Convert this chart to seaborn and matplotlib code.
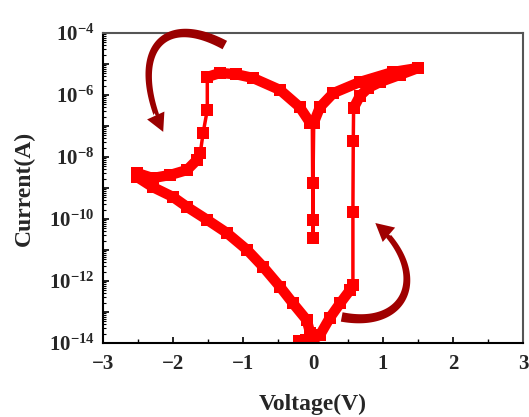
import numpy as np
import pandas as pd
import matplotlib
matplotlib.use("Agg")
import matplotlib.pyplot as plt
import seaborn as sns
from matplotlib.patches import Polygon
from matplotlib.bezier import BezierSegment
from matplotlib.transforms import IdentityTransform
from matplotlib.ticker import LogLocator, MultipleLocator, FixedLocator, NullFormatter

# ---- data (V in volts, log10 of current in A) ----
# low state, 0 -> +0.57 V
lrs_pos_v = [-0.2, -0.1, 0.0, 0.1, 0.24, 0.39, 0.53, 0.57]
lrs_pos_log = [-13.95, -13.9, -13.9, -13.74, -13.19, -12.71, -12.29, -12.13]
# SET jump at +0.57 V
set_v = [0.57, 0.57, 0.575, 0.58]
set_log = [-12.13, -9.77, -7.5, -6.42]
# high state forward, 0.58 -> 1.5 V
hrs_fwd_v = [0.58, 0.67, 0.79, 0.96, 1.24, 1.5]
hrs_fwd_log = [-6.42, -6.03, -5.77, -5.58, -5.35, -5.13]
# high state return, 1.5 -> 0 V
hrs_ret_v = [1.5, 1.14, 0.67, 0.29, 0.1, 0.01]
hrs_ret_log = [-5.13, -5.26, -5.58, -5.94, -6.39, -6.9]
# dip at 0 V
dip_v = [0.01, 0.0, 0.0, 0.0, -0.01]
dip_log = [-6.9, -8.84, -10.03, -10.6, -6.9]
# high state negative, 0 -> -1.5 V
hrs_neg_v = [-0.01, -0.04, -0.19, -0.47, -0.86, -1.1, -1.33, -1.51]
hrs_neg_log = [-6.9, -6.9, -6.39, -5.84, -5.45, -5.33, -5.29, -5.42]
# RESET drop at -1.5 V
reset_v = [-1.51, -1.51, -1.57, -1.61]
reset_log = [-5.42, -6.48, -7.23, -7.87]
# after reset, -1.6 -> -2.5 V
tail_v = [-1.61, -1.66, -1.8, -2.04, -2.29, -2.51]
tail_log = [-7.87, -8.1, -8.42, -8.58, -8.68, -8.52]
# low state return, -2.5 -> 0 V
lrs_neg_v = [-2.51, -2.29, -2.0, -1.8, -1.51, -1.23, -0.94, -0.71, -0.47,
             -0.29, -0.09, -0.04, 0.0]
lrs_neg_log = [-8.65, -8.97, -9.29, -9.61, -10.03, -10.45, -11.0, -11.55,
               -12.19, -12.71, -13.26, -13.68, -13.9]

# sweep-direction arrows: cubic bezier (V, log10 I) tail -> ctrl -> ctrl -> tip
arrow_top_v = [-1.26, -2.19, -2.64, -2.14]
arrow_top_log = [-4.39, -3.26, -4.71, -7.19]
arrow_bot_v = [0.41, 1.39, 1.67, 0.89]
arrow_bot_log = [-13.16, -13.58, -11.65, -10.13]

thick = [(lrs_pos_v, lrs_pos_log), (hrs_fwd_v, hrs_fwd_log),
         (hrs_ret_v, hrs_ret_log), (hrs_neg_v, hrs_neg_log),
         (tail_v, tail_log), (lrs_neg_v, lrs_neg_log)]
thin = [(set_v, set_log), (dip_v, dip_log), (reset_v, reset_log)]

sns.set_style("ticks")
plt.rcParams['font.family'] = ['Liberation Serif', 'DejaVu Serif']
plt.rcParams['font.weight'] = 'bold'
plt.rcParams['mathtext.fontset'] = 'custom'
plt.rcParams['mathtext.rm'] = 'Liberation Serif:bold'
plt.rcParams['mathtext.bf'] = 'Liberation Serif:bold'
plt.rcParams['mathtext.it'] = 'Liberation Serif:bold'

fig = plt.figure(figsize=(5.29, 4.17), dpi=100)
ax = fig.add_axes([0.1947, 0.1775, 0.794, 0.7434])

red = '#ff0000'
for v, lg in thick:
    df = pd.DataFrame({'V': v, 'I': 10.0 ** np.array(lg)})
    sns.lineplot(data=df, x='V', y='I', sort=False, estimator=None, ax=ax,
                 color=red, linewidth=7.5, marker='s', markersize=8,
                 markeredgewidth=0, solid_capstyle='butt')
for v, lg in thin:
    df = pd.DataFrame({'V': v, 'I': 10.0 ** np.array(lg)})
    sns.lineplot(data=df, x='V', y='I', sort=False, estimator=None, ax=ax,
                 color=red, linewidth=2.5, marker='s', markersize=8,
                 markeredgewidth=0)

ax.set_yscale('log')
ax.set_xlim(-3, 3)
ax.set_ylim(1e-14, 1e-4)

ax.xaxis.set_major_locator(MultipleLocator(1))
ax.xaxis.set_minor_locator(MultipleLocator(0.5))
ax.yaxis.set_major_locator(FixedLocator([10.0 ** k for k in range(-14, -3)]))
ax.yaxis.set_minor_locator(LogLocator(base=10, subs=np.arange(2, 10), numticks=30))
ax.yaxis.set_minor_formatter(NullFormatter())
ax.set_yticklabels(['$10^{%d}$' % k if k % 2 == 0 else '' for k in range(-14, -3)])

ax.tick_params(which='both', direction='in', top=False, right=False,
               labelsize=15, color='black')
ax.tick_params(which='major', length=4, width=1.2)
ax.tick_params(axis='x', which='major', pad=8)
ax.tick_params(axis='y', which='major', pad=6)
ax.tick_params(which='minor', length=2, width=0.8)
ax.tick_params(axis='x', which='minor', length=3, width=1.0)
for lab in ax.get_xticklabels() + ax.get_yticklabels():
    lab.set_fontweight('bold')

for side in ['left', 'bottom']:
    ax.spines[side].set_color('black')
    ax.spines[side].set_linewidth(1.5)
for side in ['top', 'right']:
    ax.spines[side].set_color('#555555')
    ax.spines[side].set_linewidth(1.5)

ax.set_xlabel('Voltage(V)', fontsize=17, fontweight='bold', labelpad=14)
ax.set_ylabel('Current(A)', fontsize=17, fontweight='bold', labelpad=10)


def curved_arrow(av, alog, color, w0=9.5, w1=5.5, head_len=18.0, head_w=19.0):
    """Tapered curved arrow along a cubic bezier, built in pixel space."""
    ctrl = ax.transData.transform(np.column_stack([av, 10.0 ** np.array(alog)]))
    bz = BezierSegment(ctrl)
    pts = bz(np.linspace(0, 1, 400))
    tip = pts[-1]
    u = ctrl[3] - ctrl[2]
    u = u / np.hypot(*u)
    base = tip - u * head_len
    dist = np.hypot(*(pts - tip).T)
    k = np.where(dist >= head_len)[0][-1]
    body = np.vstack([pts[:k + 1], base])
    d = np.gradient(body, axis=0)
    n = np.column_stack([-d[:, 1], d[:, 0]])
    n /= np.hypot(n[:, 0], n[:, 1])[:, None]
    w = np.linspace(w0, w1, len(body))[:, None] / 2
    outline = np.vstack([body + n * w, (body - n * w)[::-1]])
    ax.add_patch(Polygon(outline, closed=True, facecolor=color, edgecolor='none',
                         transform=IdentityTransform(), zorder=5, clip_on=False))
    nn = np.array([-u[1], u[0]])
    head = [tip, base + nn * head_w / 2, base - nn * head_w / 2]
    ax.add_patch(Polygon(head, closed=True, facecolor=color, edgecolor='none',
                         transform=IdentityTransform(), zorder=5, clip_on=False))


curved_arrow(arrow_top_v, arrow_top_log, '#9a0000')
curved_arrow(arrow_bot_v, arrow_bot_log, '#a00000')

fig.savefig('out.png', dpi=100, facecolor='white')
